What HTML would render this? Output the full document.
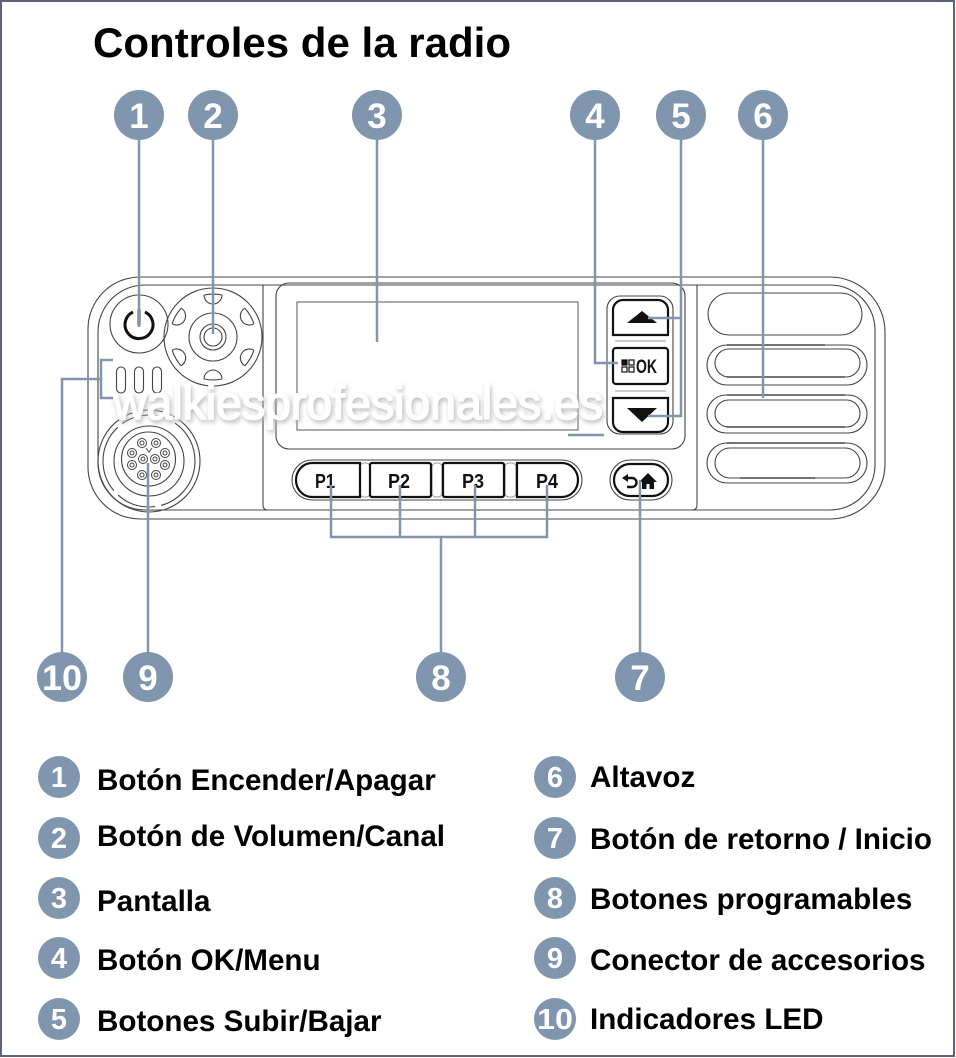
<!DOCTYPE html>
<html><head><meta charset="utf-8"><style>
html,body{margin:0;padding:0;background:#fff;}
svg{display:block;}
text{font-family:"Liberation Sans",Arial,sans-serif;}
</style></head><body>
<svg width="956" height="1058" viewBox="0 0 956 1058" xmlns="http://www.w3.org/2000/svg">
<defs>
<filter id="sh" x="-10%" y="-50%" width="120%" height="200%">
<feGaussianBlur in="SourceAlpha" stdDeviation="2.4"/>
<feOffset dx="1.5" dy="2.5" result="b"/>
<feComponentTransfer><feFuncA type="linear" slope="0.9"/></feComponentTransfer>
<feColorMatrix type="matrix" values="0 0 0 0 0.45  0 0 0 0 0.45  0 0 0 0 0.45  0 0 0 1 0"/>
<feMerge><feMergeNode/><feMergeNode in="SourceGraphic"/></feMerge>
</filter>
</defs>
<rect x="1" y="1" width="953" height="1055" fill="#fff" stroke="#5f637e" stroke-width="2"/>

<text x="93" y="57" font-size="42" font-weight="bold" fill="#000" textLength="418" lengthAdjust="spacingAndGlyphs">Controles de la radio</text>

<!-- radio body -->
<g fill="none" stroke="#444" stroke-width="1.1">
<path d="M140,277 H830 A55,55 0 0 1 885,332 V464 A55,55 0 0 1 830,519 H140 A52,52 0 0 1 88,467 V329 A52,52 0 0 1 140,277 Z"/>
<path d="M145,285 H830 A45,45 0 0 1 875,330 V465 A45,45 0 0 1 830,510 H145 A47,47 0 0 1 98,463 V332 A47,47 0 0 1 145,285 Z"/>
<path d="M263,285 V505 Q263,510 268,510"/>
<path d="M697,285 V505 Q697,510 692,510"/>
<rect x="276" y="283" width="409" height="166" rx="13"/>
<rect x="297" y="302" width="281" height="128" stroke="#666"/>
<rect x="607" y="296" width="66" height="138" rx="13"/>
<line x1="615" y1="341" x2="666" y2="341" stroke="#999"/>
<line x1="615" y1="391" x2="666" y2="391" stroke="#999"/>
</g>
<g fill="#fff" stroke="#111" stroke-width="2.2">
<path d="M613,335 V310 A10,10 0 0 1 623,300 H658 A10,10 0 0 1 668,310 V335 Z"/>
<rect x="613" y="348" width="55" height="36" rx="3"/>
<path d="M613,398 V422 A10,10 0 0 0 623,432 H658 A10,10 0 0 0 668,422 V398 Z"/>
</g>
<polygon points="627,323 657,323 642,311" fill="#111"/>
<polygon points="627,408 657,408 642,422" fill="#111"/>
<g stroke="#111" stroke-width="1.2" fill="none">
<rect x="622" y="360" width="5" height="5" fill="#111"/>
<rect x="629" y="360" width="5" height="5"/>
<rect x="622" y="367" width="5" height="5"/>
<rect x="629" y="367" width="5" height="5"/>
</g>
<text x="636" y="373" font-size="19" font-weight="bold" fill="#111" textLength="21" lengthAdjust="spacingAndGlyphs">OK</text>

<!-- speaker slots -->
<g fill="none" stroke="#444" stroke-width="1.1">
<rect x="708" y="293" width="154" height="42" rx="21"/>
<rect x="707" y="345" width="160" height="40" rx="20"/>
<rect x="715" y="349" width="145" height="28" rx="14"/>
<rect x="707" y="395" width="160" height="38" rx="19"/>
<rect x="715" y="400" width="145" height="27" rx="13.5"/>
<rect x="707" y="443" width="160" height="40" rx="20"/>
<rect x="715" y="448" width="145" height="30" rx="15"/>
</g>
<g stroke="#222" stroke-width="1.3">
<line x1="727" y1="345" x2="825" y2="345"/><line x1="727" y1="377" x2="845" y2="377"/>
<line x1="727" y1="395" x2="845" y2="395"/><line x1="727" y1="427" x2="845" y2="427"/>
<line x1="727" y1="443" x2="845" y2="443"/><line x1="740" y1="478" x2="815" y2="478"/>
</g>

<!-- P buttons -->
<g fill="none" stroke="#444" stroke-width="1.1">
<rect x="292" y="460" width="290" height="40" rx="20"/>
<rect x="360" y="463" width="10" height="34" rx="4" stroke="#999"/>
<rect x="432" y="463" width="10" height="34" rx="4" stroke="#999"/>
<rect x="505" y="463" width="11" height="34" rx="4" stroke="#999"/>
<rect x="610" y="460" width="62" height="40" rx="20"/>
</g>
<g fill="#fff" stroke="#111" stroke-width="2.2">
<path d="M360,463 V497 H312 A16,17 0 0 1 312,463 Z"/>
<rect x="370" y="463" width="61" height="34" rx="2"/>
<rect x="443" y="463" width="61" height="34" rx="2"/>
<path d="M517,463 V497 H562 A16,17 0 0 0 562,463 Z"/>
<rect x="614" y="464" width="54" height="32" rx="16"/>
</g>
<g font-size="20" font-weight="bold" fill="#111" text-anchor="middle">
<text x="325" y="488" textLength="20" lengthAdjust="spacingAndGlyphs">P1</text>
<text x="399" y="488" textLength="22" lengthAdjust="spacingAndGlyphs">P2</text>
<text x="473" y="488" textLength="22" lengthAdjust="spacingAndGlyphs">P3</text>
<text x="547" y="488" textLength="22" lengthAdjust="spacingAndGlyphs">P4</text>
</g>
<path d="M626,478 H632 A4.5,4.5 0 0 1 632,487 H627" fill="none" stroke="#111" stroke-width="2.4"/>
<polygon points="622,478 628,474 628,482" fill="#111"/>
<polygon points="639,482 648,473 657,482" fill="#111"/>
<rect x="642" y="481" width="12" height="8" fill="#111"/>
<rect x="646.5" y="484" width="3" height="5" fill="#fff"/>

<!-- power button -->
<circle cx="139" cy="324" r="29" fill="none" stroke="#444" stroke-width="1.1"/>
<path d="M133,312 A14,14 0 1 0 145,312" fill="none" stroke="#111" stroke-width="3"/>
<line x1="139" y1="309" x2="139" y2="325" stroke="#111" stroke-width="3"/>

<!-- knob -->
<g fill="none" stroke="#444" stroke-width="1.1">
<circle cx="213" cy="337" r="49"/>
<circle cx="213" cy="337" r="24"/>
<circle cx="213" cy="337" r="13"/>
<circle cx="213" cy="337" r="9"/>
<g transform="translate(213,337)">
<path d="M-9,-42 A9,9 0 0 0 9,-42 M-9,-42 A43,43 0 0 1 9,-42" transform="rotate(0)"/>
<path d="M-9,-42 A9,9 0 0 0 9,-42 M-9,-42 A43,43 0 0 1 9,-42" transform="rotate(60)"/>
<path d="M-9,-42 A9,9 0 0 0 9,-42 M-9,-42 A43,43 0 0 1 9,-42" transform="rotate(120)"/>
<path d="M-9,-42 A9,9 0 0 0 9,-42 M-9,-42 A43,43 0 0 1 9,-42" transform="rotate(180)"/>
<path d="M-9,-42 A9,9 0 0 0 9,-42 M-9,-42 A43,43 0 0 1 9,-42" transform="rotate(240)"/>
<path d="M-9,-42 A9,9 0 0 0 9,-42 M-9,-42 A43,43 0 0 1 9,-42" transform="rotate(300)"/>
</g>
</g>

<!-- LEDs -->
<g fill="none" stroke="#444" stroke-width="1.1">
<rect x="116.5" y="367" width="9" height="26" rx="4.5"/>
<rect x="134.5" y="367" width="9" height="26" rx="4.5"/>
<rect x="152.5" y="367" width="9" height="26" rx="4.5"/>
</g>

<!-- connector -->
<g fill="none" stroke="#444" stroke-width="1.1">
<circle cx="149" cy="461" r="51"/>
<circle cx="149" cy="461" r="46" stroke-dasharray="60 6 40 6 70 6 50 6"/>
<circle cx="149" cy="461" r="35"/>
<circle cx="148.5" cy="459" r="27"/>
<g stroke-width="1">
<circle cx="142" cy="443" r="4.5"/><circle cx="142" cy="443" r="2"/>
<circle cx="156" cy="443" r="4.5"/><circle cx="156" cy="443" r="2"/>
<circle cx="132" cy="453" r="4.5"/><circle cx="132" cy="453" r="2"/>
<circle cx="165" cy="453" r="4.5"/><circle cx="165" cy="453" r="2"/>
<circle cx="143" cy="459" r="4.5"/><circle cx="143" cy="459" r="2"/>
<circle cx="155" cy="459" r="4.5"/><circle cx="155" cy="459" r="2"/>
<circle cx="132" cy="465" r="4.5"/><circle cx="132" cy="465" r="2"/>
<circle cx="165" cy="465" r="4.5"/><circle cx="165" cy="465" r="2"/>
<circle cx="142" cy="475" r="4.5"/><circle cx="142" cy="475" r="2"/>
<circle cx="156" cy="475" r="4.5"/><circle cx="156" cy="475" r="2"/>
<path d="M146,448 L149,452 L152,448"/>
</g>
</g>

<!-- watermark -->
<text x="113" y="419" font-size="47" fill="#fff" stroke="#fff" stroke-width="1.6" filter="url(#sh)" textLength="490" lengthAdjust="spacingAndGlyphs">walkiesprofesionales.es</text>

<!-- callout lines -->
<g fill="none" stroke="#7f96ae" stroke-width="2.5">
<line x1="139" y1="140" x2="139" y2="327"/>
<line x1="213" y1="140" x2="213" y2="334"/>
<line x1="377" y1="140" x2="377" y2="342"/>
<polyline points="595,140 595,363 618,363"/>
<polyline points="681,140 681,416 648,416"/>
<line x1="648" y1="318" x2="681" y2="318"/>
<line x1="763" y1="140" x2="763" y2="398"/>
<polyline points="62,653 62,379 101,379"/>
<polyline points="113,360 101,360 101,398 113,398"/>
<line x1="148" y1="653" x2="148" y2="463"/>
<line x1="441" y1="653" x2="441" y2="537"/>
<polyline points="331,485 331,537 547,537 547,485"/>
<line x1="400" y1="485" x2="400" y2="537"/>
<line x1="475" y1="485" x2="475" y2="537"/>
<line x1="640" y1="653" x2="640" y2="480"/>
<line x1="568" y1="435" x2="604" y2="435"/>
</g>

<!-- callout circles -->
<g fill="#7f96ae">
<circle cx="139" cy="115" r="25"/><circle cx="213" cy="115" r="25"/><circle cx="377" cy="115" r="25"/>
<circle cx="595" cy="115" r="25"/><circle cx="681" cy="115" r="25"/><circle cx="763" cy="115" r="25"/>
<circle cx="62" cy="677" r="25"/><circle cx="148" cy="677" r="25"/><circle cx="441" cy="677" r="25"/><circle cx="640" cy="677" r="25"/>
</g>
<g fill="#fff" font-size="35" font-weight="bold" text-anchor="middle">
<text x="139" y="128">1</text><text x="213" y="128">2</text><text x="377" y="128">3</text>
<text x="595" y="128">4</text><text x="681" y="128">5</text><text x="763" y="128">6</text>
<text x="62" y="690" textLength="40" lengthAdjust="spacingAndGlyphs">10</text><text x="148" y="690">9</text><text x="441" y="690">8</text><text x="640" y="690">7</text>
</g>

<!-- legend -->
<g fill="#7f96ae">
<circle cx="59" cy="777" r="21"/><circle cx="59" cy="838" r="21"/><circle cx="59" cy="898" r="21"/><circle cx="59" cy="958" r="21"/><circle cx="59" cy="1019" r="21"/>
<circle cx="555" cy="777" r="21"/><circle cx="555" cy="838" r="21"/><circle cx="555" cy="898" r="21"/><circle cx="555" cy="958" r="21"/><circle cx="555" cy="1019" r="21"/>
</g>
<g fill="#fff" font-size="29" font-weight="bold" text-anchor="middle">
<text x="59" y="787">1</text><text x="59" y="848">2</text><text x="59" y="908">3</text><text x="59" y="968">4</text><text x="59" y="1029">5</text>
<text x="555" y="787">6</text><text x="555" y="848">7</text><text x="555" y="908">8</text><text x="555" y="968">9</text><text x="555" y="1029" textLength="36" lengthAdjust="spacingAndGlyphs">10</text>
</g>
<g fill="#000" font-size="29.6" font-weight="bold">
<text x="97" y="790">Botón Encender/Apagar</text>
<text x="97" y="846">Botón de Volumen/Canal</text>
<text x="97" y="911">Pantalla</text>
<text x="97" y="970">Botón OK/Menu</text>
<text x="97" y="1031">Botones Subir/Bajar</text>
<text x="590" y="787">Altavoz</text>
<text x="590" y="849">Botón de retorno / Inicio</text>
<text x="590" y="909">Botones programables</text>
<text x="590" y="970">Conector de accesorios</text>
<text x="590" y="1029">Indicadores LED</text>
</g>
</svg>
</body></html>
